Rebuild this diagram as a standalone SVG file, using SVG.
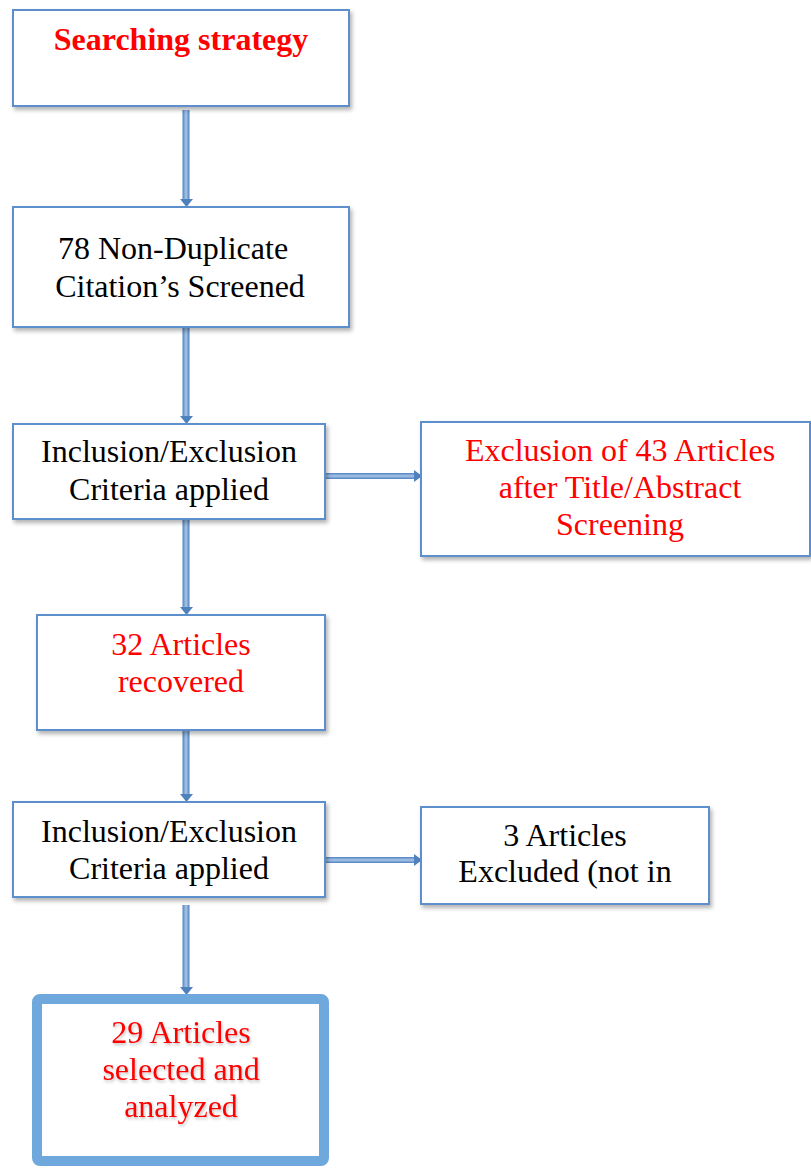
<svg xmlns="http://www.w3.org/2000/svg" width="811" height="1168" viewBox="0 0 811 1168">
<style>
.box{fill:#fff;stroke:#5b8fcc;stroke-width:2;filter:url(#sh)}
.t{font-family:"Liberation Serif","Times New Roman",serif;font-size:32px;text-anchor:middle;fill:#000}
.r{fill:#ff0000}
.b{font-weight:bold}
.shaft{fill:url(#gv)}
.shafth{fill:url(#gh)}
.head{fill:#4f81bd}
</style>
<defs>
<filter id="sh" x="-10%" y="-10%" width="130%" height="130%">
<feDropShadow dx="2" dy="3" stdDeviation="2" flood-color="#000" flood-opacity="0.3"/>
</filter>
<filter id="ts" x="-10%" y="-20%" width="130%" height="150%">
<feDropShadow dx="1" dy="2" stdDeviation="1.5" flood-color="#000" flood-opacity="0.25"/>
</filter>
<linearGradient id="gv" x1="0" y1="0" x2="1" y2="0">
<stop offset="0" stop-color="#4f81bd"/><stop offset="0.5" stop-color="#a9c6ea"/><stop offset="1" stop-color="#4f81bd"/>
</linearGradient>
<linearGradient id="gh" x1="0" y1="0" x2="0" y2="1">
<stop offset="0" stop-color="#4f81bd"/><stop offset="0.5" stop-color="#a9c6ea"/><stop offset="1" stop-color="#4f81bd"/>
</linearGradient>
</defs>
<g id="connectors">
<rect class="shaft" x="182.5" y="110" width="7" height="90"/><path class="head" d="M180 199h13l-6.5 8z"/>
<rect class="shaft" x="182.5" y="328" width="7" height="89"/><path class="head" d="M180 416h13l-6.5 8z"/>
<rect class="shaft" x="182.5" y="519" width="7" height="89"/><path class="head" d="M180 607h13l-6.5 8z"/>
<rect class="shaft" x="182.5" y="731" width="7" height="64"/><path class="head" d="M180 794h13l-6.5 8z"/>
<rect class="shaft" x="182.5" y="905" width="7" height="83"/><path class="head" d="M180 987h13l-6.5 8z"/>
<rect class="shafth" x="326" y="473" width="89" height="6"/><path class="head" d="M414 470v12l8-6z"/>
<rect class="shafth" x="326" y="857" width="89" height="6"/><path class="head" d="M414 854v12l8-6z"/>
</g>
<g id="n1"><rect class="box" x="13" y="10" width="336" height="96"/>
<text class="t r b" x="181" y="50">Searching strategy</text></g>
<g id="n2"><rect class="box" x="13" y="207" width="336" height="120"/>
<text class="t" x="173" y="259">78 Non-Duplicate</text>
<text class="t" x="180" y="297">Citation’s Screened</text></g>
<g id="n3"><rect class="box" x="13" y="424" width="312" height="95"/>
<text class="t" x="169" y="462">Inclusion/Exclusion</text>
<text class="t" x="169" y="500">Criteria applied</text></g>
<g id="n4"><rect class="box" x="421" y="422" width="389" height="134"/>
<text class="t r" x="620" y="461">Exclusion of 43 Articles</text>
<text class="t r" x="620" y="498">after Title/Abstract</text>
<text class="t r" x="620" y="535">Screening</text></g>
<g id="n5"><rect class="box" x="37" y="615" width="288" height="115"/>
<text class="t r" x="181" y="655">32 Articles</text>
<text class="t r" x="181" y="692">recovered</text></g>
<g id="n6"><rect class="box" x="13" y="802" width="312" height="95"/>
<text class="t" x="169" y="842">Inclusion/Exclusion</text>
<text class="t" x="169" y="879">Criteria applied</text></g>
<g id="n7"><rect class="box" x="421" y="807" width="288" height="97"/>
<text class="t" x="565" y="846">3 Articles</text>
<text class="t" x="565" y="882">Excluded (not in</text></g>
<g id="n8"><rect x="37" y="999" width="287" height="162" rx="3" fill="#fff" stroke="#6fa8dc" stroke-width="10"/>
<g filter="url(#ts)">
<text class="t r" x="181" y="1043">29 Articles</text>
<text class="t r" x="181" y="1080">selected and</text>
<text class="t r" x="181" y="1117">analyzed</text></g></g>
</svg>
